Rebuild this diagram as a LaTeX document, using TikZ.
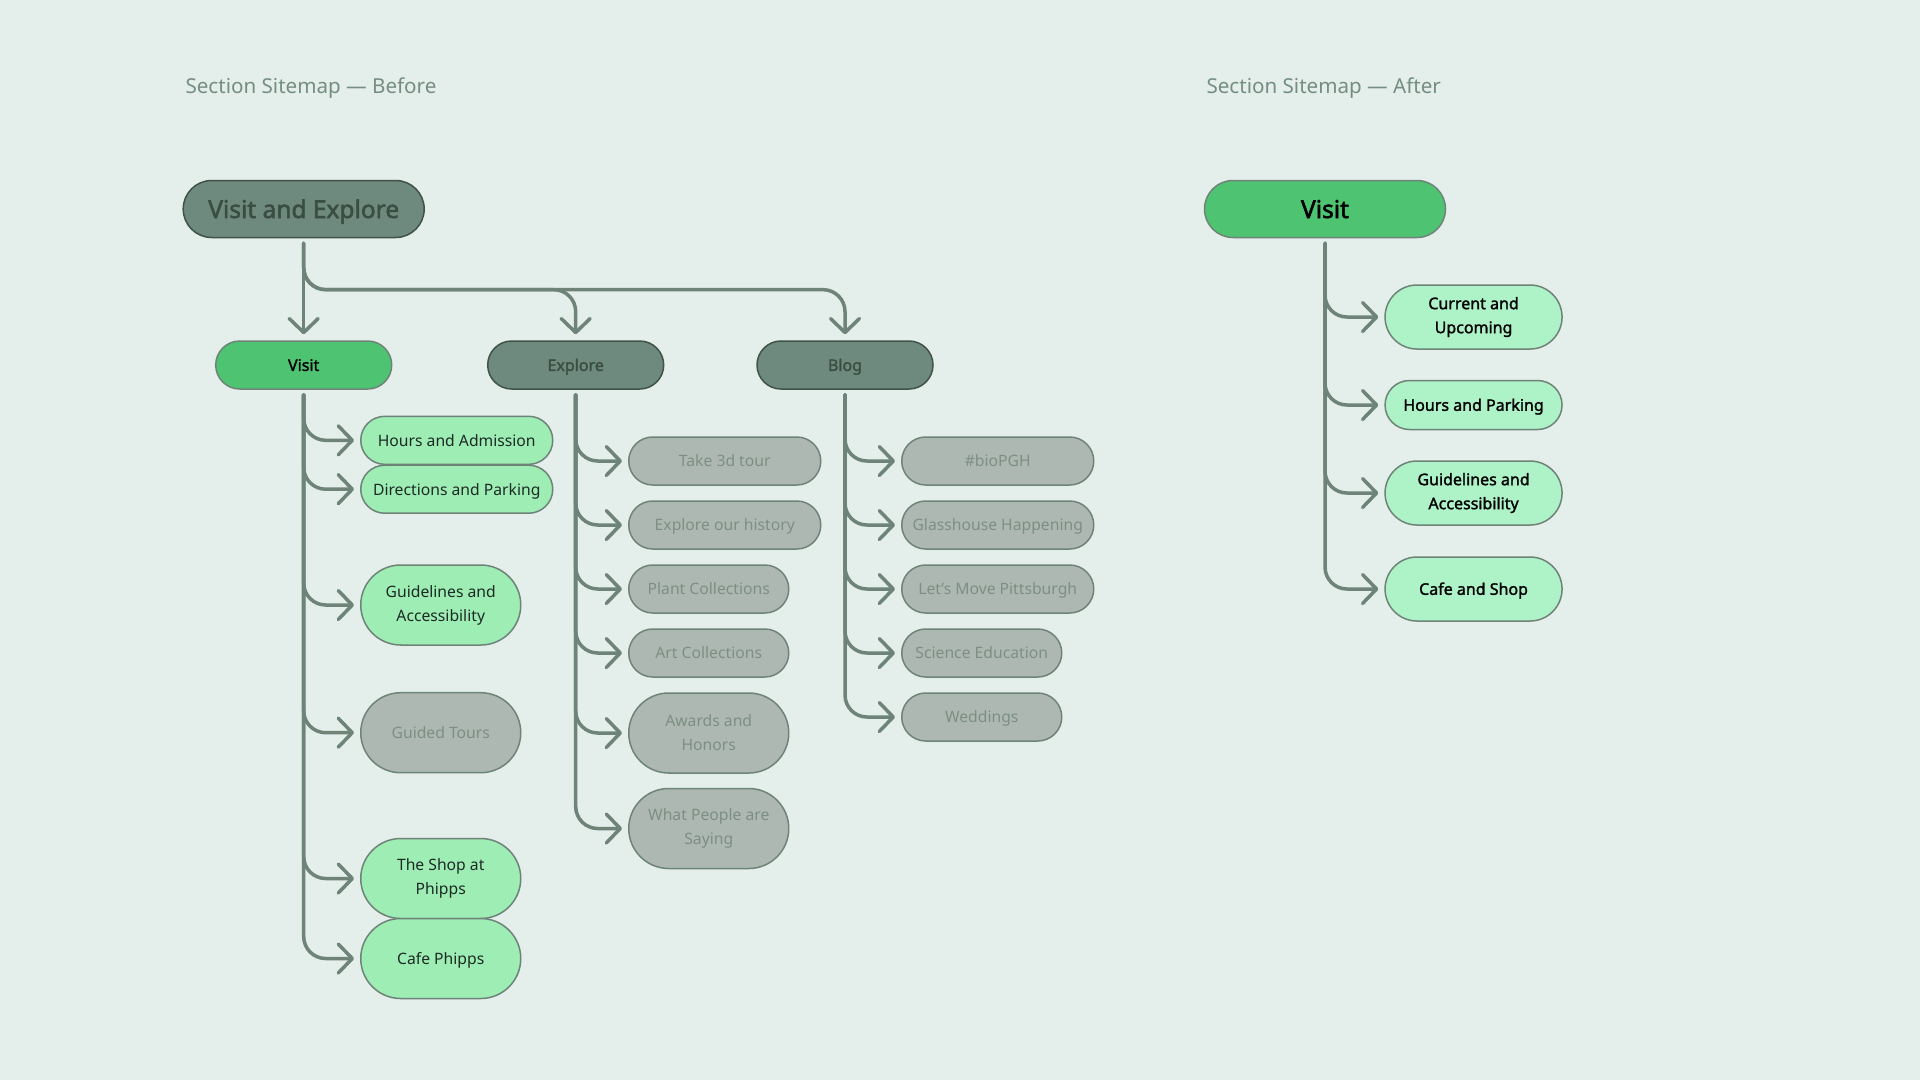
\documentclass[tikz,border=0pt]{standalone}
\usepackage{fontspec}
\setmainfont{Noto Sans}
\newfontfamily\heavy{Noto Sans}[FakeBold=2.2]
\newfontfamily\semi{Noto Sans}[FakeBold=1.6]
\usepackage{tikz}
\usetikzlibrary{positioning,shapes.misc,arrows.meta}

\definecolor{bgcol}{HTML}{E4EEEA}
\definecolor{linecol}{HTML}{6E8478}
\definecolor{darkfill}{HTML}{6E897D}
\definecolor{darkedge}{HTML}{3F5347}
\definecolor{darktext}{HTML}{3A4D43}
\definecolor{greenfill}{HTML}{4EC473}
\definecolor{lightfill}{HTML}{9DEDB4}
\definecolor{afterfill}{HTML}{AEF3C8}
\definecolor{grayfill}{HTML}{AEB8B2}
\definecolor{graytext}{HTML}{7C8F85}
\definecolor{leaftext}{HTML}{1E2B24}
\definecolor{titlecol}{HTML}{758E82}

\begin{document}
\begin{tikzpicture}[x=1pt,y=-1pt,
    box/.style={rounded rectangle, draw=linecol, line width=1.5pt, align=center, inner sep=0pt},
    topbox/.style={box, minimum width=241pt, minimum height=57pt, text height=18pt, text depth=0pt,
        font=\heavy\fontsize{24.5}{28}\selectfont},
    midbox/.style={box, minimum width=176pt, minimum height=48pt, text height=11.8pt, text depth=0pt,
        font=\semi\fontsize{16}{20}\selectfont},
    darkbox/.style={fill=darkfill, draw=darkedge, text=darktext},
    leaf/.style={box, anchor=west, fill=lightfill, text=leaftext, text height=11.6pt, text depth=0pt,
        font=\fontsize{15.7}{24}\selectfont},
    grayleaf/.style={leaf, fill=grayfill, text=graytext},
    two/.style={text height=, text depth=},
    wide/.style={minimum width=192pt, minimum height=48pt},
    narrow/.style={minimum width=160pt, minimum height=48pt},
    tall/.style={minimum width=160pt, minimum height=80pt},
    link/.style={draw=linecol, line width=3.5pt, line cap=round, rounded corners=22pt,
        -{Straight Barb[length=14pt,width=29pt,round]}, shorten <=5pt, shorten >=6pt},
    title/.style={anchor=base west, text=titlecol, font=\fontsize{20.6}{28}\selectfont}]
    \fill[bgcol] (0,0) rectangle (1920,1080);

    %%%%% BEFORE
    \node[title] (TITLEB) at (182,93) {Section Sitemap — Before};
    \node[topbox, darkbox] (VAE) at (303.7,209) {Visit and Explore};
    \node[midbox, fill=greenfill, text=black] (VISIT) at (303.7,365) {Visit};
    \node[midbox, darkbox] (EXPLORE) at (575.7,365) {Explore};
    \node[midbox, darkbox] (BLOG) at (845,365) {Blog};
    \draw[link] (VAE.south) -- (VISIT.north);
    \draw[link] (VAE.south) -- ++(0,51.4) -| (EXPLORE.north);
    \draw[link] (VAE.south) -- ++(0,51.4) -| (BLOG.north);

    % Visit leaves
    \node[leaf, wide] (V-1) at (360,440.3) {Hours and Admission};
    \node[leaf, wide] (V-2) at (360,489.2) {Directions and Parking};
    \node[leaf, tall, two] (V-3) at (360,605) {Guidelines and\\Accessibility};
    \node[grayleaf, tall] (V-4) at (360,732.7) {Guided Tours};
    \node[leaf, tall, two] (V-5) at (360,878.5) {The Shop at\\Phipps};
    \node[leaf, tall] (V-6) at (360,958.5) {Cafe Phipps};
    \draw[link] (VISIT.south) |- (V-1.west);
    \draw[link] (VISIT.south) |- (V-2.west);
    \draw[link] (VISIT.south) |- (V-3.west);
    \draw[link] (VISIT.south) |- (V-4.west);
    \draw[link] (VISIT.south) |- (V-5.west);
    \draw[link] (VISIT.south) |- (V-6.west);

    % Explore leaves
    \node[grayleaf, wide] (E-1) at (628,461) {Take 3d tour};
    \node[grayleaf, wide] (E-2) at (628,525) {Explore our history};
    \node[grayleaf, narrow] (E-3) at (628,589) {Plant Collections};
    \node[grayleaf, narrow] (E-4) at (628,653) {Art Collections};
    \node[grayleaf, tall, two] (E-5) at (628,733) {Awards and\\Honors};
    \node[grayleaf, tall, two] (E-6) at (628,828.5) {What People are\\Saying};
    \draw[link] (EXPLORE.south) |- (E-1.west);
    \draw[link] (EXPLORE.south) |- (E-2.west);
    \draw[link] (EXPLORE.south) |- (E-3.west);
    \draw[link] (EXPLORE.south) |- (E-4.west);
    \draw[link] (EXPLORE.south) |- (E-5.west);
    \draw[link] (EXPLORE.south) |- (E-6.west);

    % Blog leaves
    \node[grayleaf, wide] (B-1) at (901,461) {\#bioPGH};
    \node[grayleaf, wide] (B-2) at (901,525) {Glasshouse Happening};
    \node[grayleaf, wide] (B-3) at (901,589) {Let’s Move Pittsburgh};
    \node[grayleaf, narrow] (B-4) at (901,653) {Science Education};
    \node[grayleaf, narrow] (B-5) at (901,717) {Weddings};
    \draw[link] (BLOG.south) |- (B-1.west);
    \draw[link] (BLOG.south) |- (B-2.west);
    \draw[link] (BLOG.south) |- (B-3.west);
    \draw[link] (BLOG.south) |- (B-4.west);
    \draw[link] (BLOG.south) |- (B-5.west);

    %%%%% AFTER
    \begin{scope}[newleaf/.style={leaf, fill=afterfill, text=black, minimum width=177pt, minimum height=64pt,
        font=\semi\fontsize{16}{24}\selectfont}]
      \node[title] (TITLEA) at (1203,93) {Section Sitemap — After};
      \node[topbox, fill=greenfill, text=black] (NEWVISIT) at (1325,209) {Visit};
      \node[newleaf, two] (N-1) at (1384.3,317) {Current and\\Upcoming};
      \node[newleaf, minimum height=49pt] (N-2) at (1384.3,405) {Hours and Parking};
      \node[newleaf, two] (N-3) at (1384.3,493) {Guidelines and\\Accessibility};
      \node[newleaf] (N-4) at (1384.3,589) {Cafe and Shop};
      \draw[link] (NEWVISIT.south) |- (N-1.west);
      \draw[link] (NEWVISIT.south) |- (N-2.west);
      \draw[link] (NEWVISIT.south) |- (N-3.west);
      \draw[link] (NEWVISIT.south) |- (N-4.west);
    \end{scope}
\end{tikzpicture}
\end{document}
